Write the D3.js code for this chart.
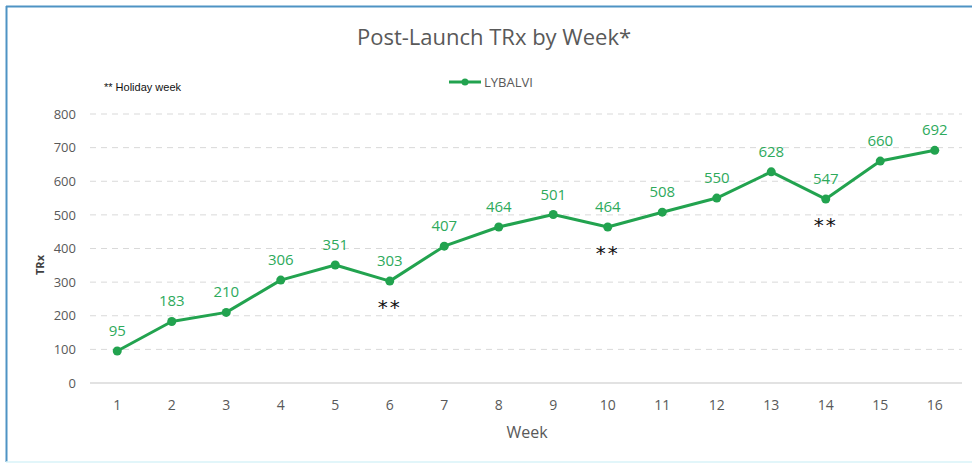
<!DOCTYPE html>
<html>
<head>
<meta charset="utf-8">
<script src="https://cdn.jsdelivr.net/npm/d3@7"></script>
<style>
  body { margin: 0; background: white; }
  svg { display: block; }
</style>
</head>
<body>
<div id="chart"></div>
<script>
let weeks = ['1', '2', '3', '4', '5', '6', '7', '8', '9', '10', '11', '12', '13', '14', '15', '16'];
let trx = [95, 183, 210, 306, 351, 303, 407, 464, 501, 464, 508, 550, 628, 547, 660, 692];
let holidayWeeks = ['6', '10', '14'];
let yTicks = [0, 100, 200, 300, 400, 500, 600, 700, 800];

let width = 972;
let height = 463;
let green = '#22a34f';
let font = "'Open Sans', sans-serif";

let svg = d3
    .select('#chart')
    .append('svg')
    .attr('width', width)
    .attr('height', height);

// frame
svg.append('line')
    .attr('x1', 6).attr('x2', width)
    .attr('y1', 6.5).attr('y2', 6.5)
    .attr('stroke', '#4f93c4').attr('stroke-width', 2);
svg.append('line')
    .attr('x1', 6.5).attr('x2', 6.5)
    .attr('y1', 6).attr('y2', 462)
    .attr('stroke', '#4f93c4').attr('stroke-width', 2);
svg.append('line')
    .attr('x1', 6).attr('x2', width)
    .attr('y1', 462).attr('y2', 462)
    .attr('stroke', '#d8f3f8').attr('stroke-width', 1.5);

let xScale = d3
    .scaleBand()
    .domain(weeks)
    .range([90, 962]);

let yScale = d3
    .scaleLinear()
    .domain([0, 800])
    .range([383, 114]);

let cx = d => xScale(d) + xScale.bandwidth() / 2;

// gridlines
svg.append('g')
    .selectAll('line')
    .data(yTicks.filter(t => t > 0))
    .enter()
    .append('line')
    .attr('x1', 90).attr('x2', 962)
    .attr('y1', d => yScale(d)).attr('y2', d => yScale(d))
    .attr('stroke', '#d9d9d9')
    .attr('stroke-width', 1)
    .attr('stroke-dasharray', '6,5');

svg.append('line')
    .attr('x1', 90).attr('x2', 962)
    .attr('y1', yScale(0)).attr('y2', yScale(0))
    .attr('stroke', '#d9d9d9')
    .attr('stroke-width', 1.5);

// axes
let yAxis = d3.axisLeft(yScale).tickValues(yTicks).tickSize(0).tickPadding(14);
svg.append('g')
    .attr('transform', 'translate(90,0)')
    .call(yAxis)
    .call(g => g.select('.domain').remove())
    .selectAll('text')
    .attr('fill', '#595959')
    .attr('font-size', 13)
    .attr('font-family', font);

let xAxis = d3.axisBottom(xScale).tickSize(0).tickPadding(17);
svg.append('g')
    .attr('transform', `translate(0,${yScale(0)})`)
    .call(xAxis)
    .call(g => g.select('.domain').remove())
    .selectAll('text')
    .attr('fill', '#595959')
    .attr('font-size', 14)
    .attr('font-family', font);

// title + labels
svg.append('text')
    .text('Post-Launch TRx by Week*')
    .attr('x', 494).attr('y', 45)
    .attr('text-anchor', 'middle')
    .attr('fill', '#595959')
    .attr('font-size', 22)
    .attr('font-family', font);

svg.append('text')
    .text('Week')
    .attr('x', 527).attr('y', 438)
    .attr('text-anchor', 'middle')
    .attr('fill', '#595959')
    .attr('font-size', 16)
    .attr('font-family', font);

svg.append('text')
    .text('TRx')
    .attr('transform', 'translate(44,265)rotate(-90)')
    .attr('text-anchor', 'middle')
    .attr('fill', '#404040')
    .attr('font-size', 11)
    .attr('font-weight', 'bold')
    .attr('font-family', font);

svg.append('text')
    .text('** Holiday week')
    .attr('x', 104).attr('y', 91)
    .attr('fill', '#111')
    .attr('font-size', 11)
    .attr('font-family', 'Liberation Sans, Arial, sans-serif');

// legend
let legend = svg.append('g');
legend.append('line')
    .attr('x1', 449).attr('x2', 481)
    .attr('y1', 82).attr('y2', 82)
    .attr('stroke', green).attr('stroke-width', 3);
legend.append('circle')
    .attr('cx', 465).attr('cy', 82).attr('r', 3.5)
    .attr('fill', green);
legend.append('text')
    .text('LYBALVI')
    .attr('x', 484).attr('y', 87)
    .attr('fill', '#595959')
    .attr('font-size', 13)
    .attr('font-family', font);

// series
let data = weeks.map((w, i) => ({ week: w, value: trx[i] }));

let line = d3.line()
    .x(d => cx(d.week))
    .y(d => yScale(d.value));

svg.append('path')
    .datum(data)
    .attr('d', line)
    .attr('fill', 'none')
    .attr('stroke', green)
    .attr('stroke-width', 3)
    .attr('stroke-linejoin', 'round');

svg.append('g')
    .selectAll('circle')
    .data(data)
    .enter()
    .append('circle')
    .attr('cx', d => cx(d.week))
    .attr('cy', d => yScale(d.value))
    .attr('r', 4.5)
    .attr('fill', green);

svg.append('g')
    .selectAll('text')
    .data(data)
    .enter()
    .append('text')
    .text(d => d.value)
    .attr('x', d => cx(d.week))
    .attr('y', d => yScale(d.value) - 15)
    .attr('text-anchor', 'middle')
    .attr('fill', '#2eaa5c')
    .attr('font-size', 15)
    .attr('font-family', font);

svg.append('g')
    .selectAll('text')
    .data(data.filter(d => holidayWeeks.includes(d.week)))
    .enter()
    .append('text')
    .text('**')
    .attr('x', d => cx(d.week))
    .attr('y', d => yScale(d.value) + 33)
    .attr('text-anchor', 'middle')
    .attr('fill', '#111')
    .attr('font-size', 20)
    .attr('letter-spacing', 2)
    .attr('font-family', 'DejaVu Sans, sans-serif');
</script>
</body>
</html>
